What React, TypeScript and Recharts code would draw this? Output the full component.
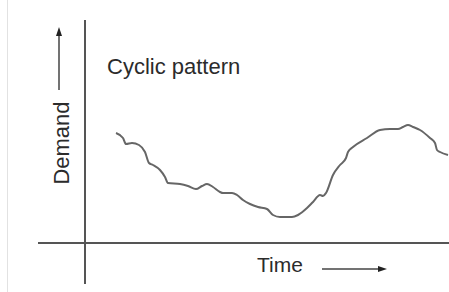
import React from "react";
import { Customized, Line, LineChart, ReferenceLine, XAxis, YAxis } from "recharts";

// time since origin (arbitrary units) and demand level
const TIME = [
  31, 38, 41, 47, 54, 60, 64, 68, 75, 80, 83, 95, 103, 111, 117, 122, 128, 135,
  138, 147, 152, 158, 165, 173, 182, 188, 195, 207, 213, 222, 228, 235, 238,
  241, 248, 255, 261, 263, 268, 282, 295, 305, 313, 318, 323, 328, 335, 345,
  350, 352, 355, 363,
];
const DEMAND = [
  110, 105, 99, 100, 98, 91, 80, 78, 73, 66, 60, 59, 57, 54, 57, 59, 56, 51,
  50, 50, 48, 43, 39, 36, 34, 28, 26, 26, 28, 35, 41, 48, 47, 50, 68, 78, 85,
  91, 96, 105, 113, 114, 114, 116, 118, 116, 113, 105, 100, 93, 91, 88,
];

const TIME_DOMAIN = [-47, 364];
const DEMAND_DOMAIN = [-41, 223];

const TITLE = "Cyclic pattern";
const X_LABEL = "Time";
const Y_LABEL = "Demand";

const FONT = '"Liberation Sans", Arial, sans-serif';
const INK = "#2b2b2b";

const data = TIME.map((t, i) => ({ time: t, demand: DEMAND[i] }));

function Annotations() {
  return (
    <g fontFamily={FONT} fill={INK}>
      <text x={107} y={74} fontSize={22}>
        {TITLE}
      </text>
      <text x={257} y={272} fontSize={21}>
        {X_LABEL}
      </text>
      <text
        x={69}
        y={143}
        fontSize={22}
        textAnchor="middle"
        transform="rotate(-90 69 143)"
      >
        {Y_LABEL}
      </text>
      {/* arrows next to the axis names */}
      <line x1={59} y1={90} x2={59} y2={34} stroke="#444" strokeWidth={1.5} />
      <polygon points="59,27 56,36 62,36" fill="#222" />
      <line x1={322} y1={269} x2={379} y2={269} stroke="#444" strokeWidth={1.5} />
      <polygon points="387,269 378,266 378,272" fill="#222" />
    </g>
  );
}

export default function App() {
  return (
    <div
      style={{
        position: "absolute",
        left: 0,
        top: 0,
        width: 449,
        height: 292,
        background: "#fff",
      }}
    >
      <div
        style={{
          position: "absolute",
          left: 7,
          top: 0,
          width: 1,
          height: 292,
          background: "#e2e2e2",
        }}
      />
      <LineChart
        data={data}
        height={292}
        margin={{ bottom: 8, left: 38, right: 0, top: 20 }}
        width={449}
      >
        <XAxis dataKey="time" domain={TIME_DOMAIN} hide type="number" />
        <YAxis domain={DEMAND_DOMAIN} hide type="number" />
        <ReferenceLine stroke="#555" strokeWidth={2} x={0} />
        <ReferenceLine stroke="#555" strokeWidth={2} y={0} />
        <Line
          dataKey="demand"
          dot={false}
          isAnimationActive={false}
          stroke="#666"
          strokeWidth={2}
          type="monotone"
        />
        <Customized component={<Annotations />} />
      </LineChart>
    </div>
  );
}
